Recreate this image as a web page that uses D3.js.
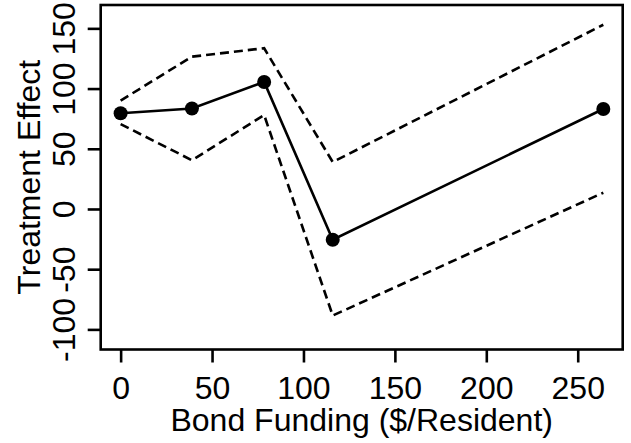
<!DOCTYPE html>
<html>
<head>
<meta charset="utf-8">
<script src="https://cdn.jsdelivr.net/npm/d3@7"></script>
<style>
  body { margin: 0; background: #fff; }
  text { font-family: "Liberation Sans", Arial, sans-serif; fill: #000; }
</style>
</head>
<body>
<svg id="chart" width="631" height="443"></svg>
<script>
// funding levels and estimated effects with interval bounds
var funding = [0, 39, 78.5, 116, 264];
var effect = [79.5, 83.5, 105.5, -25.5, 83];
var upper = [90, 126.5, 133.5, 39, 153];
var lower = [70.5, 40.5, 78, -88.5, 13.5];
var xTicks = [0, 50, 100, 150, 200, 250];
var yTicks = [-100, -50, 0, 50, 100, 150];

var svg = d3.select("#chart");
var plotL = 100.7, plotR = 622.7, plotT = 5, plotB = 349.5;
var fontSize = 32;
var lw = 2.6;
var plain = function(d) { return String(d); }; // keep ASCII hyphen like R

var x = d3.scaleLinear().domain([-10.9, 274.6]).range([plotL, plotR]);
var y = d3.scaleLinear().domain([-116.7, 169.4]).range([plotB, plotT]);

var pts = funding.map(function(f, i) { return { x: f, e: effect[i], u: upper[i], l: lower[i] }; });

// x axis ticks + labels
var xa = svg.append("g").attr("transform", "translate(0," + plotB + ")")
  .call(d3.axisBottom(x).tickValues(xTicks).tickFormat(plain).tickSize(13).tickSizeOuter(0));
xa.select(".domain").remove();
xa.selectAll("line").attr("stroke", "#000").attr("stroke-width", lw);
xa.selectAll("text").attr("font-size", fontSize).attr("dy", null).attr("y", 49.5)
  .attr("font-family", "Liberation Sans, Arial, sans-serif");

// y axis, labels rotated like base R
var ya = svg.append("g").attr("transform", "translate(" + plotL + ",0)")
  .call(d3.axisLeft(y).tickValues(yTicks).tickFormat(plain).tickSize(13).tickSizeOuter(0));
ya.select(".domain").remove();
ya.selectAll("line").attr("stroke", "#000").attr("stroke-width", lw);
ya.selectAll("text")
  .attr("font-size", fontSize)
  .attr("font-family", "Liberation Sans, Arial, sans-serif")
  .attr("x", null).attr("dy", null)
  .attr("text-anchor", "middle")
  .attr("transform", "translate(-25.5,0) rotate(-90)");

// plot box
svg.append("rect")
  .attr("x", plotL).attr("y", plotT)
  .attr("width", plotR - plotL).attr("height", plotB - plotT)
  .attr("fill", "none").attr("stroke", "#000").attr("stroke-width", lw);

var lineFor = function(key) {
  return d3.line().x(function(d) { return x(d.x); }).y(function(d) { return y(d[key]); });
};

svg.append("path").datum(pts).attr("d", lineFor("u"))
  .attr("fill", "none").attr("stroke", "#000").attr("stroke-width", lw).attr("stroke-dasharray", "9,5");
svg.append("path").datum(pts).attr("d", lineFor("l"))
  .attr("fill", "none").attr("stroke", "#000").attr("stroke-width", lw).attr("stroke-dasharray", "9,5");
svg.append("path").datum(pts).attr("d", lineFor("e"))
  .attr("fill", "none").attr("stroke", "#000").attr("stroke-width", lw);

svg.selectAll("circle.pt").data(pts).enter().append("circle")
  .attr("class", "pt")
  .attr("cx", function(d) { return x(d.x); })
  .attr("cy", function(d) { return y(d.e); })
  .attr("r", 7)
  .attr("fill", "#000");

// axis titles
svg.append("text")
  .attr("x", (plotL + plotR) / 2).attr("y", 430.5)
  .attr("text-anchor", "middle").attr("font-size", fontSize)
  .text("Bond Funding ($/Resident)");

svg.append("text")
  .attr("transform", "translate(40," + ((plotT + plotB) / 2) + ") rotate(-90)")
  .attr("text-anchor", "middle").attr("font-size", fontSize)
  .text("Treatment Effect");
</script>
</body>
</html>
